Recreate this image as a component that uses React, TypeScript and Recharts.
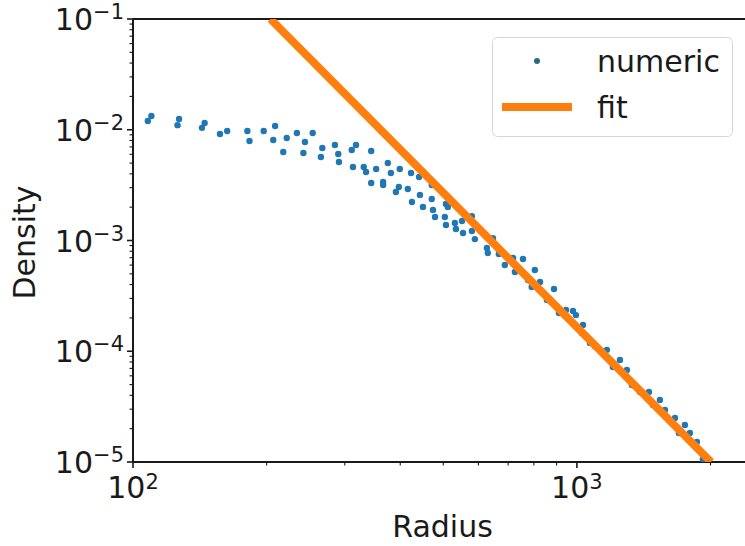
import React from 'react';
import { ScatterChart, Scatter, XAxis, YAxis, ReferenceLine, Legend } from 'recharts';

// numeric density profile
const radius = [
  108, 110, 126, 127, 143, 145, 157, 163, 181, 183,
  197, 209, 207, 218, 222, 234, 244, 242, 254, 267,
  265, 285, 290, 291, 311, 318, 313, 344, 331, 335,
  353, 344, 375, 381, 366, 366, 399, 397, 391, 423,
  416, 441, 443, 425, 471, 471, 450, 474, 479, 507,
  512, 504, 507, 531, 534, 551, 554, 580, 580, 589,
  627, 630, 647, 667, 688, 718, 725, 756, 776, 791,
  804, 826, 838, 888, 856, 902, 911, 945, 980, 995,
  1032, 1026, 1070, 1098, 1168, 1205, 1250, 1296, 1330, 1387,
  1453, 1483, 1538, 1579, 1663, 1697, 1751, 1797, 1864, 1922,
];
const density = [
  0.012, 0.0133, 0.011, 0.0125, 0.0104, 0.0115, 0.00916, 0.00975, 0.00975, 0.00791,
  0.00975, 0.0108, 0.00808, 0.0063, 0.00842, 0.00935, 0.00775, 0.00617, 0.00935, 0.00685,
  0.00568, 0.00728, 0.00604, 0.00512, 0.00656, 0.00728, 0.00461, 0.00643, 0.00461, 0.00415,
  0.00442, 0.0033, 0.00501, 0.00407, 0.00337, 0.00317, 0.00442, 0.00304, 0.00274, 0.00407,
  0.00292, 0.00374, 0.00258, 0.00223, 0.00317, 0.00237, 0.00201, 0.00189, 0.00163, 0.00214,
  0.00201, 0.00163, 0.00138, 0.00144, 0.00127, 0.0015, 0.00117, 0.00166, 0.00122, 0.00103,
  0.000855, 0.000771, 0.00105, 0.000755, 0.000601, 0.000695, 0.00052, 0.000681, 0.00044, 0.00038,
  0.000542, 0.000422, 0.000336, 0.000365, 0.00029, 0.000251, 0.000221, 0.000236, 0.000231, 0.000212,
  0.000173, 0.000146, 0.000119, 0.000111, 0.000103, 0.0000721, 0.0000834, 0.0000677, 0.0000496, 0.0000429,
  0.0000429, 0.0000327, 0.0000363, 0.0000295, 0.000025, 0.0000183, 0.0000216, 0.0000183, 0.0000152, 0.0000106,
];

// power-law fit endpoints
const fitRadius = [204, 2005];
const fitDensity = [0.1, 0.00001];

const xTicks = [100, 200, 300, 400, 500, 600, 700, 800, 900, 1000, 2000];
const yDecades = [0.00001, 0.0001, 0.001, 0.01];
const minorMantissas = [2, 3, 4, 5, 6, 7, 8, 9];
const yTicks = [
  ...yDecades.flatMap((d) => [d, ...minorMantissas.map((m) => m * d)]),
  0.1,
];

const numericData = radius.map((r, i) => ({ x: r, y: density[i] }));
const fitData = fitRadius.map((r, i) => ({ x: r, y: fitDensity[i] }));

const FONT = '"DejaVu Sans", sans-serif';
const INK = '#1a1a1a';
const BLUE = '#1f77b4';
const ORANGE = '#ff7f0e';

const isMajor = (v: number) => {
  const l = Math.log10(v);
  return Math.abs(l - Math.round(l)) < 1e-6;
};

function XTick({ x, y, payload }: any) {
  const v = payload.value;
  const major = isMajor(v);
  return (
    <g>
      <line x1={x} x2={x} y1={y} y2={y + (major ? 6 : 3.5)} stroke={INK} strokeWidth={major ? 1.6 : 1.1} />
      {major && (
        <text x={x} y={y + 36} textAnchor="middle" fontFamily={FONT} fontSize={30} fill={INK}>
          10
          <tspan dy={-9} fontSize={21}>
            {Math.round(Math.log10(v))}
          </tspan>
        </text>
      )}
    </g>
  );
}

function YTick({ x, y, payload }: any) {
  const v = payload.value;
  const major = isMajor(v);
  return (
    <g>
      <line x1={x} x2={x - (major ? 6 : 3.5)} y1={y} y2={y} stroke={INK} strokeWidth={major ? 1.6 : 1.1} />
      {major && (
        <text x={x - 9} y={y + 11} textAnchor="end" fontFamily={FONT} fontSize={30} fill={INK}>
          10
          <tspan dy={-11} fontSize={21}>
            {'\u2212' + Math.abs(Math.round(Math.log10(v)))}
          </tspan>
        </text>
      )}
    </g>
  );
}

const Dot = ({ cx, cy }: any) => <circle cx={cx} cy={cy} r={3.2} fill={BLUE} />;
const NoDot = () => <g />;

function LegendBox() {
  return (
    <svg width={241} height={100} style={{ display: 'block' }}>
      <rect x={0.5} y={0.5} width={240} height={99} rx={5} fill="#fff" fillOpacity={0.85} stroke="#d6d6d6" />
      <circle cx={45} cy={24} r={3} fill="#2b6a7c" />
      <text x={105} y={35} fontFamily={FONT} fontSize={30} fill={INK}>
        numeric
      </text>
      <line x1={10} x2={80} y1={70} y2={70} stroke={ORANGE} strokeWidth={8} />
      <text x={105} y={81} fontFamily={FONT} fontSize={30} fill={INK}>
        fit
      </text>
    </svg>
  );
}

const xTitle = (props: any) => {
  const vb = props.viewBox || { x: 133, y: 462, width: 619 };
  return (
    <text x={vb.x + vb.width / 2} y={vb.y + 75} textAnchor="middle" fontFamily={FONT} fontSize={30} fill={INK}>
      Radius
    </text>
  );
};

const yTitle = (props: any) => {
  const vb = props.viewBox || { x: 0, y: 19, height: 443 };
  const cx = vb.x + 35;
  const cy = vb.y + vb.height / 2 + 2;
  return (
    <text
      x={cx}
      y={cy}
      transform={`rotate(-90, ${cx}, ${cy})`}
      textAnchor="middle"
      fontFamily={FONT}
      fontSize={30}
      fill={INK}
    >
      Density
    </text>
  );
};

export default function App() {
  return (
    <div
      style={{
        position: 'absolute',
        left: 0,
        top: 0,
        width: 745,
        height: 546,
        overflow: 'hidden',
        background: '#fff',
      }}
    >
      <ScatterChart width={752} height={546} margin={{ top: 19, right: 0, bottom: 0, left: 0 }}>
        <XAxis
          type="number"
          dataKey="x"
          scale="log"
          domain={[100, 2480]}
          allowDataOverflow
          ticks={xTicks}
          interval={0}
          height={84}
          tickSize={0}
          tickMargin={0}
          tickLine={false}
          tick={<XTick />}
          axisLine={{ stroke: INK, strokeWidth: 2 }}
          label={xTitle}
        />
        <YAxis
          type="number"
          dataKey="y"
          scale="log"
          domain={[0.00001, 0.1]}
          allowDataOverflow
          ticks={yTicks}
          interval={0}
          width={133}
          tickSize={0}
          tickMargin={0}
          tickLine={false}
          tick={<YTick />}
          axisLine={{ stroke: INK, strokeWidth: 2 }}
          label={yTitle}
        />
        <ReferenceLine y={0.1} stroke={INK} strokeWidth={2} />
        <Scatter
          name="numeric"
          data={numericData}
          fill={BLUE}
          shape={<Dot />}
          isAnimationActive={false}
        />
        <Scatter
          name="fit"
          data={fitData}
          fill={ORANGE}
          line={{ strokeWidth: 8 }}
          shape={<NoDot />}
          isAnimationActive={false}
        />
        <Legend
          layout="horizontal"
          verticalAlign="middle"
          align="center"
          wrapperStyle={{ position: 'absolute', left: 492, top: 37, width: 241, height: 100 }}
          content={() => <LegendBox />}
        />
      </ScatterChart>
    </div>
  );
}
